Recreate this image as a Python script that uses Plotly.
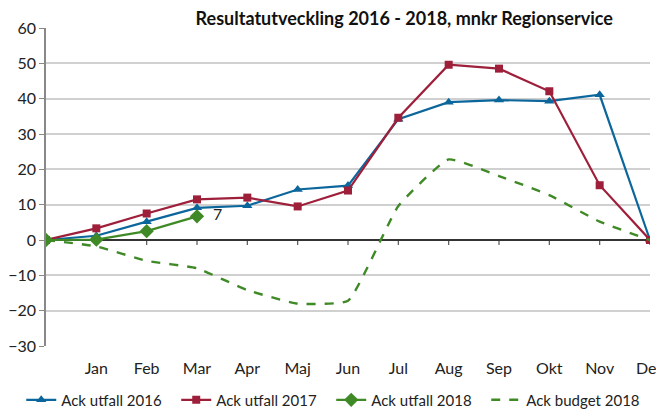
import plotly.graph_objects as go

MONTHS = ["", "Jan", "Feb", "Mar", "Apr", "Maj", "Jun", "Jul", "Aug", "Sep", "Okt", "Nov", "Dec"]
UTFALL_2016 = [0, 1.2, 5.2, 9.1, 9.7, 14.3, 15.4, 34.2, 39.0, 39.6, 39.3, 41.1, 0]
UTFALL_2017 = [0, 3.3, 7.5, 11.5, 12.0, 9.5, 14.0, 34.6, 49.6, 48.5, 42.1, 15.5, 0]
UTFALL_2018 = [0, 0.1, 2.5, 6.7]
BUDGET_2018 = [0, -1.8, -5.9, -8.0, -14.2, -18.0, -17.2, 9.6, 22.8, 18.1, 12.7, 5.2, 0]

BLUE = "#0b669c"
RED = "#9e1f3a"
GREEN = "#3f8a26"
FONT = "Lato, Carlito, Arial, sans-serif"

x = list(range(len(MONTHS)))

fig = go.Figure()
fig.add_trace(go.Scatter(
    x=x, y=UTFALL_2016, mode="lines+markers", name="Ack utfall 2016",
    line=dict(color=BLUE, width=2.2), marker=dict(symbol="triangle-up", size=9, color=BLUE),
))
fig.add_trace(go.Scatter(
    x=x, y=UTFALL_2017, mode="lines+markers", name="Ack utfall 2017",
    line=dict(color=RED, width=2.2), marker=dict(symbol="square", size=8, color=RED),
))
# only the latest 2018 value carries a data label
labels_2018 = [""] * (len(UTFALL_2018) - 1) + [f"  {UTFALL_2018[-1]:.0f}"]
fig.add_trace(go.Scatter(
    x=x[:len(UTFALL_2018)], y=UTFALL_2018, mode="lines+markers+text", name="Ack utfall 2018",
    line=dict(color=GREEN, width=2.2), marker=dict(symbol="diamond", size=11, color=GREEN),
    text=labels_2018, textposition="middle right",
    textfont=dict(size=16, color="#222222", family=FONT),
))
fig.add_trace(go.Scatter(
    x=x, y=BUDGET_2018, mode="lines", name="Ack budget 2018",
    line=dict(color=GREEN, width=2.4, dash="dash", shape="spline", smoothing=0.4),
))

# small tick marks hanging under the zero line at each month
for i in x[1:]:
    fig.add_shape(type="line", xref="x", yref="y", x0=i, x1=i, y0=0, y1=-1.4,
                  line=dict(color="#555555", width=1.2), layer="below")

# page body has an 8px margin, so the figure is sized 8px smaller
fig.update_layout(
    width=656, height=401,
    paper_bgcolor="white", plot_bgcolor="white",
    margin=dict(l=38, r=14, t=20, b=63, autoexpand=False),
    font=dict(family=FONT, size=16, color="#222222"),
    title=dict(text="<b>Resultatutveckling 2016 - 2018, mnkr Regionservice</b>",
               x=0.604, xanchor="center", y=0.973, yanchor="middle",
               font=dict(size=18, family=FONT, color="#111111")),
    showlegend=True,
    legend=dict(orientation="h", x=-0.041, xanchor="left", y=-0.17, yanchor="middle",
                font=dict(size=15, family=FONT), itemwidth=30, tracegroupgap=0,
                entrywidth=110, entrywidthmode="pixels",
                bgcolor="rgba(0,0,0,0)"),
)
fig.update_xaxes(
    range=[0, 12], tickvals=x[1:], ticktext=MONTHS[1:],
    showgrid=False, zeroline=False, showline=False, automargin=False,
    ticks="outside", ticklen=8, tickcolor="rgba(0,0,0,0)",
    ticklabeloverflow="allow",
    tickfont=dict(size=16, family=FONT),
)
fig.update_yaxes(
    range=[-30, 60], dtick=10, showgrid=True, gridcolor="#d0d0d0", gridwidth=1.5,
    zeroline=True, zerolinecolor="#333333", zerolinewidth=1.5,
    showline=True, linecolor="#888888", linewidth=1.5, automargin=False,
    ticks="outside", ticklen=5, tickcolor="#888888",
    tickfont=dict(size=16, family=FONT),
)

fig.write_html("out.html")
